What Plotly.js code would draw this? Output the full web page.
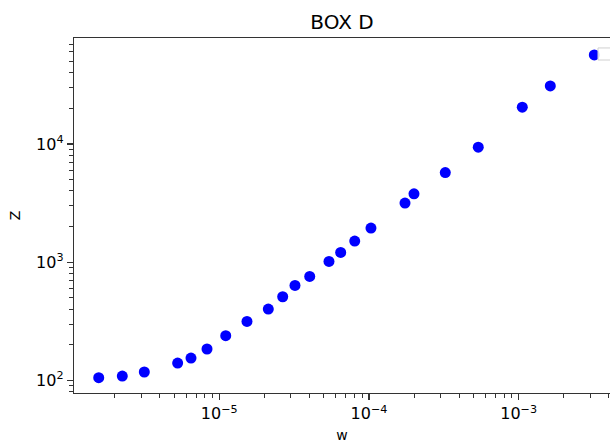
<!DOCTYPE html>
<html>
<head>
<meta charset="utf-8">
<script src="https://cdn.plot.ly/plotly-3.0.1.min.js"></script>
<style>
  html, body { margin: 0; padding: 0; background: #fff; }
  #chart { width: 610px; height: 443px; }
</style>
</head>
<body>
<div id="chart"></div>
<script>
// Measured samples: w against Z
const wValues = [1.565e-6, 2.249e-6, 3.155e-6, 5.27e-6, 6.47e-6, 8.28e-6,
                 1.104e-5, 1.531e-5, 2.125e-5, 2.652e-5, 3.204e-5, 4.018e-5,
                 5.404e-5, 6.47e-5, 8.03e-5, 1.031e-4, 1.740e-4, 1.998e-4,
                 3.233e-4, 5.37e-4, 1.057e-3, 1.626e-3, 3.2e-3];
const zValues = [105.4, 108.9, 117.8, 140.3, 154.6, 184.3,
                 238.7, 315.3, 401.5, 509.9, 635.3, 757,
                 1014, 1208, 1508, 1942, 3160, 3787,
                 5731, 9397, 20470, 30980, 56650];

const xTickVals = [1e-5, 1e-4, 1e-3];
const xTickText = ['10<sup>−5</sup>', '10<sup>−4</sup>', '10<sup>−3</sup>'];
const yTickVals = [1e2, 1e3, 1e4];
const yTickText = ['10<sup>2</sup>', '10<sup>3</sup>', '10<sup>4</sup>'];

// minor ticks at 2..9 within each decade
function decadeMinors(fromExp, toExp) {
  const out = [];
  for (let e = fromExp; e <= toExp; e++) {
    for (let m = 2; m <= 9; m++) out.push(m * Math.pow(10, e));
  }
  return out;
}

const axisColor = '#333333';
const font = { family: 'DejaVu Sans, sans-serif', size: 14, color: '#000' };
const tickFont = { family: 'DejaVu Sans, sans-serif', size: 16, color: '#000' };

const trace = {
  x: wValues,
  y: zValues,
  type: 'scatter',
  mode: 'markers',
  name: '',
  marker: { color: '#0000ff', size: 11 },
  showlegend: false
};

const layout = {
  width: 610,
  height: 443,
  margin: { l: 74, r: 0, t: 38, b: 50 },
  paper_bgcolor: '#ffffff',
  plot_bgcolor: '#ffffff',
  font: font,
  title: {
    text: 'BOX D',
    font: { family: 'DejaVu Sans, sans-serif', size: 20, color: '#000' },
    x: 0.5, xref: 'paper', xanchor: 'center',
    y: 1 - 22 / 443, yref: 'container', yanchor: 'middle'
  },
  xaxis: {
    type: 'log',
    range: [-5.9706, -2.39],
    showgrid: false, zeroline: false,
    showline: true, linecolor: axisColor, linewidth: 1.2, mirror: true,
    ticks: 'outside', ticklen: 6, tickwidth: 1.2, tickcolor: axisColor,
    tickmode: 'array', tickvals: xTickVals, ticktext: xTickText,
    tickfont: tickFont,
    minor: { tickmode: 'array', tickvals: decadeMinors(-6, -3), ticks: 'outside',
             ticklen: 3.5, tickwidth: 1, tickcolor: axisColor, showgrid: false },
    title: { text: 'w', font: font, standoff: 10 }
  },
  yaxis: {
    type: 'log',
    range: [1.8935, 4.896],
    showgrid: false, zeroline: false,
    showline: true, linecolor: axisColor, linewidth: 1.2, mirror: false,
    ticks: 'outside', ticklen: 6, tickwidth: 1.2, tickcolor: axisColor,
    tickmode: 'array', tickvals: yTickVals, ticktext: yTickText,
    tickfont: tickFont,
    minor: { tickmode: 'array', tickvals: decadeMinors(1, 4), ticks: 'outside',
             ticklen: 3.5, tickwidth: 1, tickcolor: axisColor, showgrid: false },
    title: { text: 'Z', font: font, standoff: 12 }
  },
  shapes: [{
    // legend frame in the upper right corner
    type: 'rect', xref: 'paper', yref: 'paper', layer: 'above',
    x0: 0.9776, x1: 1.03, y0: 0.938, y1: 0.972,
    line: { color: '#d0d0d0', width: 1 },
    fillcolor: 'rgba(255,255,255,0.85)'
  }]
};

Plotly.newPlot('chart', [trace], layout, { displayModeBar: false, staticPlot: true });
</script>
</body>
</html>
